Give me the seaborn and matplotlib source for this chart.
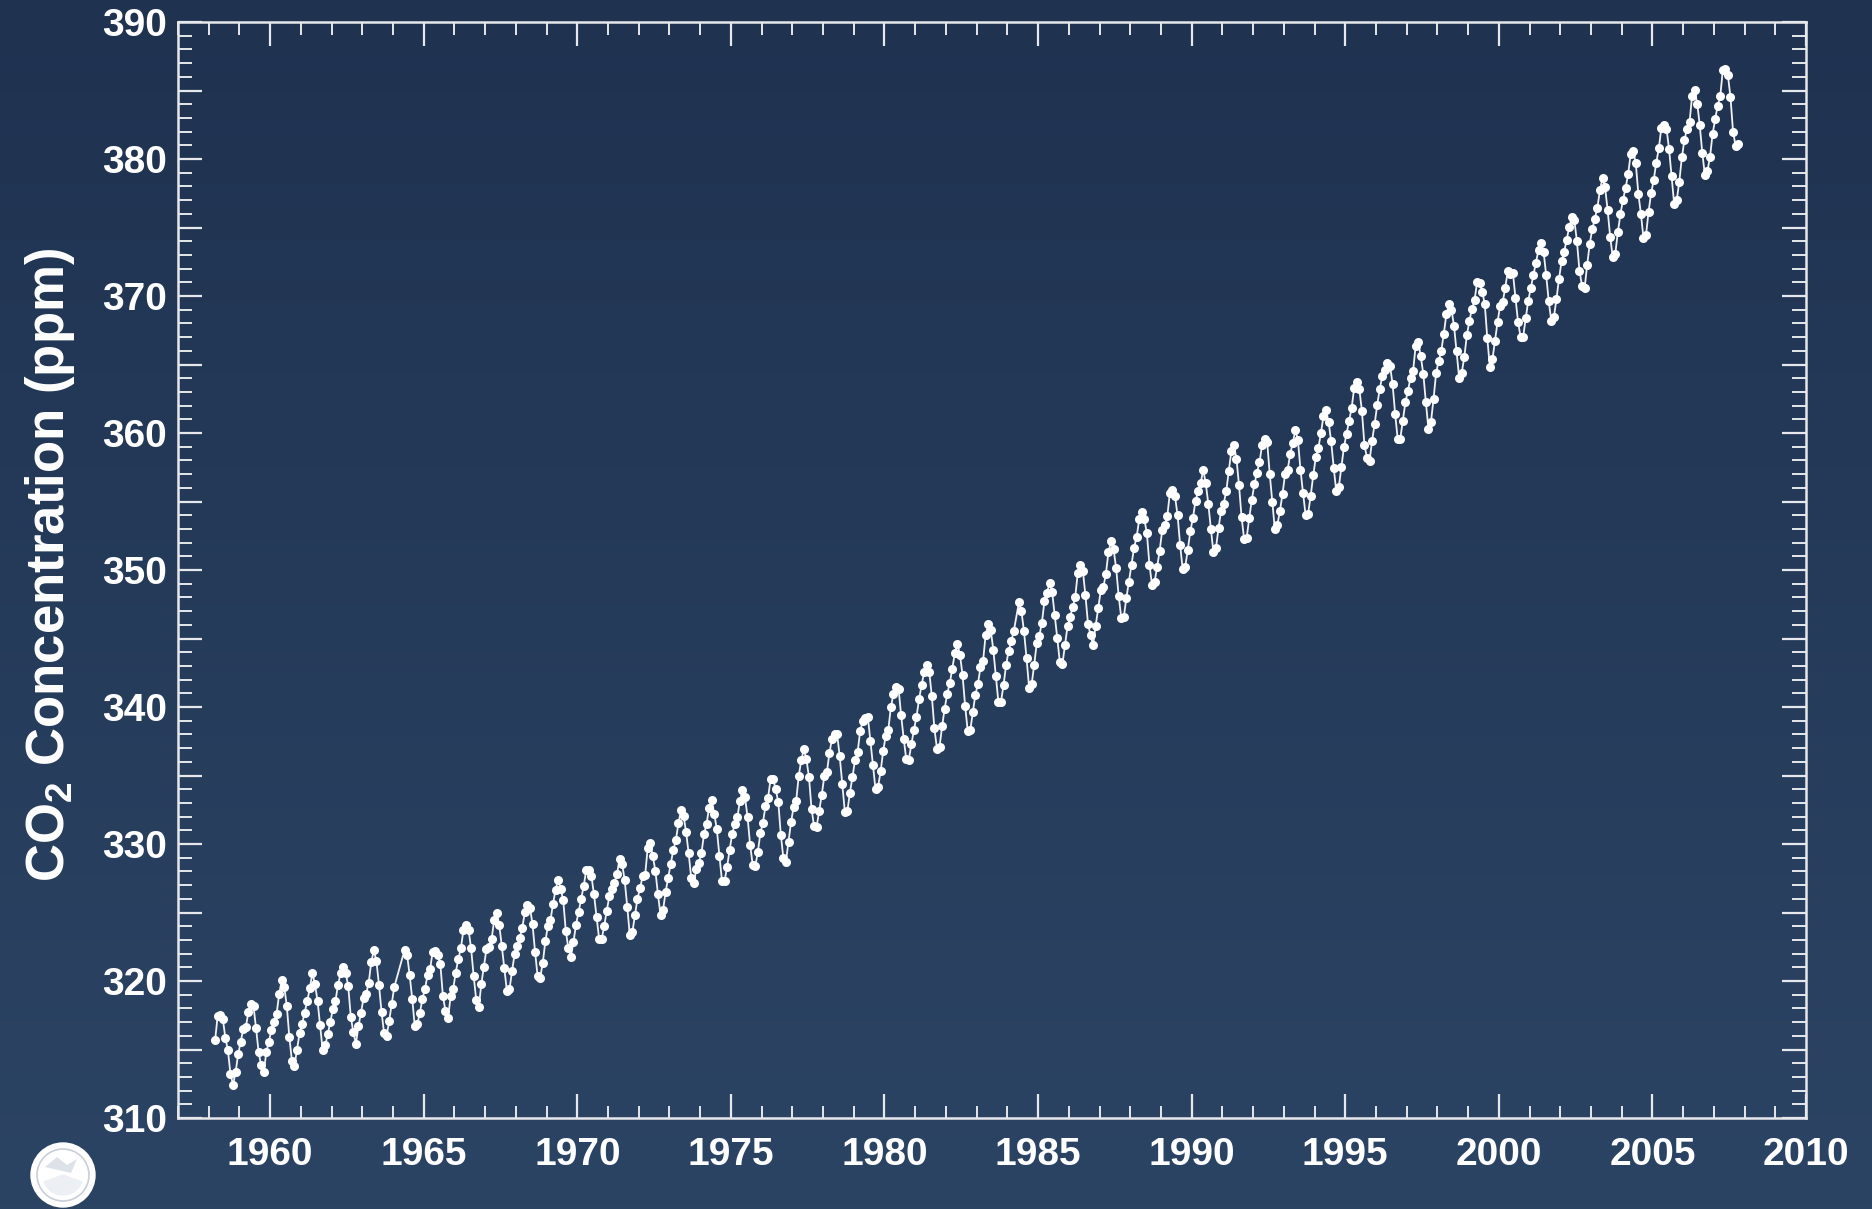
import numpy as np
import pandas as pd
import matplotlib
matplotlib.use("Agg")
import matplotlib.pyplot as plt
from matplotlib.ticker import MultipleLocator, FuncFormatter
from matplotlib.patches import Circle, Wedge, Polygon
import seaborn as sns

# ---------------- data: Mauna Loa monthly mean CO2 (ppm) ----------------
# None = month without a measurement (line connects across the gap)
co2_1958_1959 = [  # Mar 1958 .. Dec 1959
    315.70, 317.45, 317.51, 317.24, 315.86, 314.93, 313.20, 312.43, 313.33, 314.67,
    315.58, 316.49, 316.65, 317.72, 318.29, 318.15, 316.54, 314.80, 313.84, 313.33, 314.81, 315.58,
]
co2_1960s = [
    316.43, 316.98, 317.58, 319.03, 320.04, 319.58, 318.18, 315.90, 314.17, 313.83, 315.00, 316.19,
    316.89, 317.70, 318.54, 319.48, 320.58, 319.77, 318.57, 316.79, 314.99, 315.31, 316.10, 317.01,
    317.94, 318.55, 319.68, 320.57, 321.02, 320.62, 319.61, 317.40, 316.25, 315.42, 316.69, 317.70,
    318.74, 319.07, 319.86, 321.38, 322.25, 321.48, 319.74, 317.77, 316.21, 315.99, 317.07, 318.35,
    319.57, None,   None,   None,   322.26, 321.89, 320.44, 318.69, 316.70, 316.87, 317.68, 318.71,
    319.44, 320.44, 320.89, 322.14, 322.17, 321.87, 321.21, 318.87, 317.82, 317.30, 318.87, 319.42,
    320.62, 321.60, 322.39, 323.70, 324.08, 323.75, 322.38, 320.36, 318.64, 318.10, 319.78, 321.03,
    322.33, 322.50, 323.04, 324.42, 325.00, 324.09, 322.54, 320.92, 319.25, 319.39, 320.73, 321.96,
    322.57, 323.15, 323.89, 325.02, 325.57, 325.36, 324.14, 322.11, 320.33, 320.25, 321.32, 322.89,
    324.00, 324.42, 325.63, 326.66, 327.38, 326.71, 325.88, 323.66, 322.38, 321.78, 322.86, 324.12,
]
co2_1970s = [
    325.06, 325.98, 326.93, 328.13, 328.08, 327.67, 326.34, 324.69, 323.10, 323.06, 324.01, 325.13,
    326.17, 326.68, 327.17, 327.79, 328.93, 328.57, 327.36, 325.43, 323.36, 323.56, 324.80, 326.01,
    326.77, 327.63, 327.75, 329.72, 330.07, 329.09, 328.04, 326.32, 324.84, 325.20, 326.50, 327.55,
    328.55, 329.56, 330.30, 331.50, 332.48, 332.07, 330.87, 329.31, 327.51, 327.18, 328.16, 328.64,
    329.35, 330.71, 331.48, 332.65, 333.19, 332.20, 331.07, 329.15, 327.33, 327.28, 328.31, 329.58,
    330.73, 331.46, 331.94, 333.11, 333.95, 333.42, 331.97, 329.95, 328.50, 328.36, 329.38, 330.78,
    331.56, 332.74, 333.36, 334.74, 334.72, 333.98, 333.08, 330.68, 328.96, 328.72, 330.16, 331.62,
    332.68, 333.17, 334.96, 336.14, 336.93, 336.17, 334.88, 332.56, 331.29, 331.27, 332.41, 333.60,
    334.95, 335.25, 336.66, 337.69, 338.03, 338.01, 336.41, 334.41, 332.37, 332.41, 333.75, 334.90,
    336.14, 336.69, 338.27, 338.95, 339.21, 339.26, 337.54, 335.75, 333.98, 334.19, 335.31, 336.81,
]
co2_1980s = [
    337.90, 338.34, 340.01, 340.93, 341.48, 341.33, 339.40, 337.70, 336.19, 336.15, 337.27, 338.32,
    339.29, 340.55, 341.61, 342.53, 343.03, 342.54, 340.78, 338.44, 336.95, 337.08, 338.58, 339.88,
    340.96, 341.73, 342.81, 343.97, 344.63, 343.79, 342.32, 340.09, 338.28, 338.29, 339.60, 340.90,
    341.68, 342.90, 343.33, 345.25, 346.03, 345.63, 344.19, 342.27, 340.35, 340.38, 341.59, 343.05,
    344.10, 344.79, 345.52, None,   347.63, 346.98, 345.53, 343.55, 341.40, 341.67, 343.10, 344.70,
    345.21, 346.16, 347.74, 348.34, 349.06, 348.38, 346.72, 345.02, 343.27, 343.13, 344.49, 345.88,
    346.56, 347.28, 348.01, 349.77, 350.38, 349.93, 348.16, 346.08, 345.22, 344.51, 345.93, 347.21,
    348.52, 348.73, 349.73, 351.31, 352.09, 351.53, 350.11, 348.08, 346.52, 346.59, 347.96, 349.16,
    350.39, 351.64, 352.40, 353.69, 354.21, 353.72, 352.69, 350.40, 348.92, 349.13, 350.20, 351.41,
    352.91, 353.27, 353.96, 355.64, 355.86, 355.37, 353.99, 351.81, 350.05, 350.25, 351.49, 352.85,
]
co2_1990s = [
    353.80, 355.04, 355.73, 356.32, 357.32, 356.34, 354.84, 353.01, 351.31, 351.62, 353.07, 354.33,
    354.84, 355.73, 357.23, 358.66, 359.13, 358.13, 356.19, 353.85, 352.25, 352.35, 353.81, 355.12,
    356.25, 357.11, 357.86, 359.09, 359.59, 359.33, 357.01, 354.94, 352.96, 353.32, 354.32, 355.57,
    357.00, 357.31, 358.47, 359.27, 360.19, 359.52, 357.33, 355.64, 354.03, 354.12, 355.41, 356.91,
    358.24, 358.92, 359.99, 361.23, 361.65, 360.81, 359.38, 357.46, 355.73, 356.07, 357.53, 358.98,
    359.92, 360.86, 361.83, 363.30, 363.69, 363.19, 361.64, 359.12, 358.17, 357.99, 359.45, 360.68,
    362.07, 363.24, 364.17, 364.57, 365.13, 364.92, 363.55, 361.38, 359.54, 359.58, 360.89, 362.24,
    363.09, 364.03, 364.51, 366.35, 366.64, 365.59, 364.31, 362.25, 360.29, 360.82, 362.49, 364.38,
    365.26, 365.98, 367.24, 368.66, 369.42, 368.99, 367.82, 365.95, 364.02, 364.40, 365.52, 367.13,
    368.18, 369.07, 369.68, 370.99, 370.96, 370.30, 369.45, 366.90, 364.81, 365.37, 366.72, 368.10,
]
co2_2000s = [  # Jan 2000 .. Oct 2007
    369.29, 369.55, 370.60, 371.82, 371.58, 371.70, 369.86, 368.13, 367.00, 367.03, 368.37, 369.67,
    370.59, 371.51, 372.43, 373.37, 373.85, 373.21, 371.51, 369.61, 368.18, 368.45, 369.76, 371.24,
    372.53, 373.20, 374.12, 375.02, 375.76, 375.52, 374.01, 371.85, 370.75, 370.55, 372.25, 373.79,
    374.88, 375.64, 376.45, 377.73, 378.60, 377.93, 376.28, 374.31, 372.85, 373.10, 374.66, 375.97,
    377.00, 377.87, 378.88, 380.35, 380.62, 379.69, 377.47, 376.01, 374.25, 374.46, 376.16, 377.51,
    378.46, 379.73, 380.77, 382.29, 382.45, 382.21, 380.74, 378.74, 376.70, 377.00, 378.35, 380.11,
    381.38, 382.19, 382.67, 384.61, 385.03, 384.05, 382.46, 380.41, 378.85, 379.13, 380.15, 381.82,
    382.89, 383.90, 384.58, 386.50, 386.56, 386.10, 384.50, 381.99, 380.96, 381.12,
]
segments = [((1958, 3), co2_1958_1959), ((1960, 1), co2_1960s), ((1970, 1), co2_1970s),
            ((1980, 1), co2_1980s), ((1990, 1), co2_1990s), ((2000, 1), co2_2000s)]

rows = []
for (y0, m0), vals in segments:
    for i, v in enumerate(vals):
        k = (m0 - 1) + i
        yr, mo = y0 + k // 12, k % 12 + 1
        if v is not None:
            rows.append((yr + (mo - 0.5) / 12.0, v))
df = pd.DataFrame(rows, columns=["date", "co2"])

x_ticks = [1960, 1965, 1970, 1975, 1980, 1985, 1990, 1995, 2000, 2005, 2010]
y_ticks = [310, 320, 330, 340, 350, 360, 370, 380, 390]

# ---------------- style ----------------
sns.set_style("ticks")
plt.rcParams["font.family"] = ["Liberation Sans", "DejaVu Sans"]
plt.rcParams["font.weight"] = "bold"
plt.rcParams["mathtext.fontset"] = "custom"
plt.rcParams["mathtext.rm"] = "Liberation Sans:bold"
plt.rcParams["mathtext.bf"] = "Liberation Sans:bold"
plt.rcParams["mathtext.it"] = "Liberation Sans:bold"

W, H = 1872, 1209
fig = plt.figure(figsize=(W / 100, H / 100), dpi=100)

# gradient background
bg = fig.add_axes([0, 0, 1, 1], zorder=-10)
grad = np.linspace(0, 1, 256)[:, None]
top = np.array([31, 50, 80]) / 255.0
bot = np.array([44, 68, 100]) / 255.0
img = top[None, None, :] * (1 - grad[:, :, None]) + bot[None, None, :] * grad[:, :, None]
bg.imshow(img, aspect="auto", extent=[0, 1, 0, 1])
bg.set_axis_off()

# logo (simplified white emblem)
la = fig.add_axes([0, 0, 1, 1], zorder=-5)
la.set_xlim(0, W); la.set_ylim(0, H); la.set_axis_off()
cx, cy = 63, H - 1175
la.add_patch(Circle((cx, cy), 32, color="white"))
la.add_patch(Circle((cx, cy), 26, fill=False, ec="#c9ced6", lw=1.2))
la.add_patch(Wedge((cx, cy), 20, 200, 340, color="#eceff3"))
la.add_patch(Polygon([[cx - 18, cy + 8], [cx - 6, cy + 18], [cx + 4, cy + 10],
                      [cx + 14, cy + 16], [cx + 8, cy + 2]], closed=True,
                     fc="#dde2e8", ec="none"))

ax = fig.add_axes([178 / W, 1 - 1118 / H, (1806 - 178) / W, (1118 - 22) / H])
ax.set_facecolor("none")

sns.lineplot(data=df, x="date", y="co2", ax=ax, color="#f2f2f2", linewidth=1.3,
             marker="o", markersize=6.5, markeredgewidth=0, markerfacecolor="white",
             estimator=None, sort=False)

ax.set_xlim(1957, 2010)
ax.set_ylim(310, 390)
ax.set_xticks(x_ticks)
ax.set_xticklabels([str(t) for t in x_ticks])
ax.xaxis.set_minor_locator(MultipleLocator(1))
ax.yaxis.set_major_locator(MultipleLocator(5))
ax.yaxis.set_major_formatter(FuncFormatter(lambda v, p: f"{int(round(v))}" if round(v) % 10 == 0 else ""))
ax.yaxis.set_minor_locator(MultipleLocator(1))
ax.set_xlabel("")
ax.set_ylabel("")

lc = "#e6e8eb"
for s in ax.spines.values():
    s.set_visible(True)
    s.set_color(lc)
    s.set_linewidth(1.8)
ax.tick_params(which="both", direction="in", top=True, right=True, colors=lc,
               labelcolor="white")
ax.tick_params(axis="x", which="major", length=17, width=1.6, labelsize=28, pad=14)
ax.tick_params(axis="x", which="minor", length=9, width=1.4)
ax.tick_params(axis="y", which="major", length=17, width=1.6, labelsize=28, pad=8)
ax.tick_params(axis="y", which="minor", length=10, width=1.4)
for lab in ax.get_xticklabels() + ax.get_yticklabels():
    lab.set_fontweight("bold")

fig.text(50 / W, 1 - 565 / H, r"CO$_\mathbf{2}$ Concentration (ppm)", rotation=90,
         ha="center", va="center", fontsize=38, fontweight="bold", color="white")

fig.savefig("out.png", dpi=100)
